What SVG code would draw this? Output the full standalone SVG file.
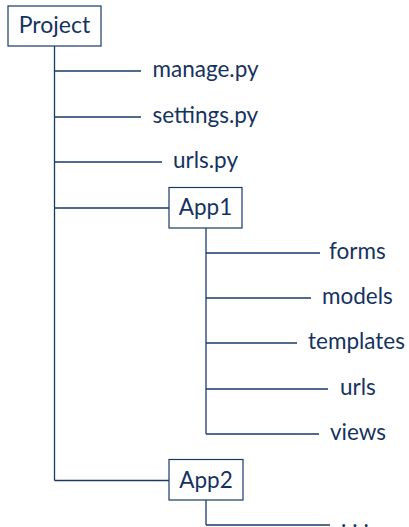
<svg xmlns="http://www.w3.org/2000/svg" width="409" height="527" viewBox="0 0 409 527">
<style>
text{font-family:Lato,"Open Sans",sans-serif;font-size:22.5px;fill:#15335f}
.box{fill:#fff;stroke:#1a3a66;stroke-width:1.2}
.c line{stroke:#1a3a66;stroke-width:1.3}
</style>
<rect width="409" height="527" fill="#fff"/>
<g class="c" id="connectors">
<line x1="54.5" y1="46" x2="54.5" y2="480.5"/>
<line x1="54.5" y1="71" x2="141" y2="71"/>
<line x1="54.5" y1="117" x2="141" y2="117"/>
<line x1="54.5" y1="162" x2="162" y2="162"/>
<line x1="54.5" y1="208" x2="169" y2="208"/>
<line x1="54.5" y1="480.5" x2="169" y2="480.5"/>
<line x1="206" y1="228" x2="206" y2="434"/>
<line x1="206" y1="253" x2="320" y2="253"/>
<line x1="206" y1="298" x2="311" y2="298"/>
<line x1="206" y1="343" x2="297" y2="343"/>
<line x1="206" y1="389" x2="328" y2="389"/>
<line x1="206" y1="434" x2="319" y2="434"/>
<line x1="206" y1="500" x2="206" y2="525"/>
<line x1="206" y1="525" x2="330" y2="525"/>
</g>
<g id="project"><rect class="box" x="8" y="6" width="93" height="40"/><text x="54.5" y="33" text-anchor="middle" style="font-size:23px">Project</text></g>
<g id="manage"><text x="152.5" y="76.5">manage.py</text></g>
<g id="settings"><text x="152.5" y="122.5">settings.py</text></g>
<g id="urls1"><text x="173" y="167.5">urls.py</text></g>
<g id="app1"><rect class="box" x="169" y="187.5" width="73" height="40.5"/><text x="205.5" y="215" text-anchor="middle">App1</text></g>
<g id="forms"><text x="329" y="258.5">forms</text></g>
<g id="models"><text x="322" y="303.5">models</text></g>
<g id="templates"><text x="308" y="348.5">templates</text></g>
<g id="urls2"><text x="340" y="394.5">urls</text></g>
<g id="views"><text x="330" y="439.5">views</text></g>
<g id="app2"><rect class="box" x="169" y="459.5" width="74" height="40.5"/><text x="206" y="487.5" text-anchor="middle">App2</text></g>
<g id="more"><text x="341" y="527" style="letter-spacing:6px">...</text></g>
</svg>
